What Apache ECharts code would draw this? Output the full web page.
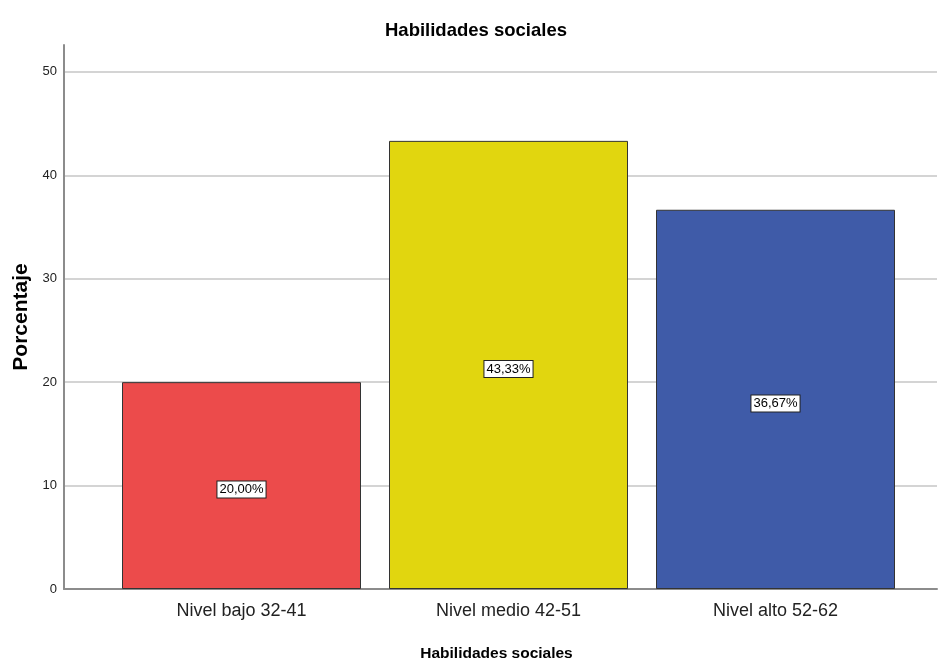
<!DOCTYPE html>
<html>
<head>
<meta charset="utf-8">
<script src="https://cdn.jsdelivr.net/npm/echarts@6/dist/echarts.min.js"></script>
<style>
  html, body { margin: 0; padding: 0; background: #fff; }
  #chart { width: 939px; height: 663px; }
</style>
</head>
<body>
<div id="chart"></div>
<script>
// datos del grafico
var categorias = ['Nivel bajo 32-41', 'Nivel medio 42-51', 'Nivel alto 52-62'];
var porcentajes = [20.00, 43.33, 36.67];
var colores = ['#EC4B4B', '#E1D60F', '#3F5BA8'];

var fuente = '"Liberation Sans Narrow", "Liberation Sans", Arial, sans-serif';
var chart = echarts.init(document.getElementById('chart'));

var option = {
  animation: false,
  title: {
    text: 'Habilidades sociales',
    left: 380,
    top: 16,
    textStyle: { fontFamily: fuente, fontSize: 18.5, fontWeight: 'bold', color: '#000' }
  },
  grid: [
    { left: 64, right: 2, top: 45, bottom: 74, outerBoundsMode: 'none', containLabel: false },   // marco
    { left: 108, right: 30, top: 45, bottom: 74, outerBoundsMode: 'none', containLabel: false }  // barras
  ],
  xAxis: [
    {
      type: 'value', gridIndex: 0, min: 0, max: 1,
      name: 'Habilidades sociales', nameLocation: 'middle', nameGap: 57,
      nameTextStyle: { fontFamily: fuente, fontSize: 15.5, fontWeight: 'bold', color: '#000', padding: [0, 8, 0, 0] },
      axisLine: { show: true, lineStyle: { color: '#8c8c8c', width: 2 } },
      axisTick: { show: false }, axisLabel: { show: false }, splitLine: { show: false }
    },
    {
      type: 'category', gridIndex: 1, data: categorias,
      axisLine: { show: false }, axisTick: { show: false },
      axisLabel: { fontFamily: fuente, fontSize: 18, color: '#222', margin: 13 }
    }
  ],
  yAxis: [
    {
      type: 'value', gridIndex: 0, min: 0, max: 52.6, interval: 10,
      name: 'Porcentaje', nameLocation: 'middle', nameGap: 32,
      nameTextStyle: { fontFamily: fuente, fontSize: 21, fontWeight: 'bold', color: '#000' },
      axisLine: { show: true, lineStyle: { color: '#8c8c8c', width: 2 } },
      axisTick: { show: false },
      axisLabel: {
        fontFamily: fuente, fontSize: 13, color: '#222', margin: 7,
        showMaxLabel: false
      },
      splitLine: { show: true, showMinLine: false, showMaxLine: false, lineStyle: { color: '#d4d4d4', width: 2 } }
    },
    {
      type: 'value', gridIndex: 1, min: 0, max: 52.6, interval: 10,
      axisLine: { show: false }, axisTick: { show: false },
      axisLabel: { show: false }, splitLine: { show: false }
    }
  ],
  series: [{
    type: 'bar',
    xAxisIndex: 1, yAxisIndex: 1,
    barWidth: 239,
    data: porcentajes.map(function (v, i) {
      return { value: v, itemStyle: { color: colores[i] } };
    }),
    itemStyle: { borderColor: '#333', borderWidth: 1 },
    label: {
      show: true, position: 'inside', offset: [0, 4],
      formatter: function (p) { return p.value.toFixed(2).replace('.', ',') + '%'; },
      fontFamily: fuente, fontSize: 13, color: '#000',
      backgroundColor: '#fff', borderColor: '#222', borderWidth: 1,
      padding: [2, 2, 1, 2]
    }
  }]
};

chart.setOption(option);
</script>
</body>
</html>
